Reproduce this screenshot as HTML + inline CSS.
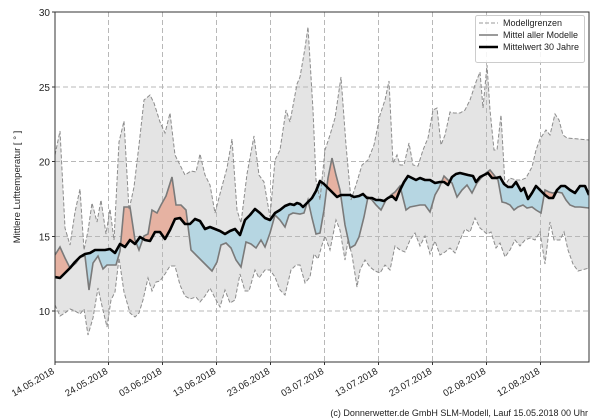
<!DOCTYPE html>
<html><head><meta charset="utf-8"><style>
html,body{margin:0;padding:0;background:#fff;}
svg{display:block;font-family:"Liberation Sans","DejaVu Sans",sans-serif;}
</style></head><body>
<svg width="600" height="420" viewBox="0 0 600 420" xmlns="http://www.w3.org/2000/svg">
<defs>
<clipPath id="plot"><rect x="55" y="12" width="534" height="350"/></clipPath>
<clipPath id="above"><polygon points="55,12 55,277 60,278 65,273 70,268 75,262 80,257 85,254 90,253 95,250 100,250 105,250 110,249 115,253 120,244 125,247 130,240 135,244 140,237 145,240 150,241 155,232 160,232 165,239 170,230 175,219 180,218 185,224 190,224 195,219 200,221 205,229 210,227 215,229 220,231 225,234 230,231 235,229 240,235 245,220 250,215 255,209 260,213 265,218 270,220 275,213 280,210 285,206 290,204 294,205 297,203 300,204 303,207 307,203 312,198 316,191 320,181 324,184 328,188 333,193 337,197 341,195 346,195 350,195 354,197 359,196 363,194 367,198 372,198 376,200 380,200 384,201 388,198 392,196 396,200 400,190 404,182 408,176 412,178 416,180 420,178 425,180 430,180 435,183 440,182 444,182 448,185 452,177 456,174 460,173 464,174 468,175 473,176 476,182 480,177 484,175 488,173 492,178 496,178 500,177 504,184 508,187 512,187 516,182 521,191 524,188 528,199 532,193 536,186 540,190 545,195 549,198 553,198 557,190 561,186 565,186 570,190 575,193 580,186 585,186 589,195 589,12"/></clipPath>
<clipPath id="below"><polygon points="55,362 55,277 60,278 65,273 70,268 75,262 80,257 85,254 90,253 95,250 100,250 105,250 110,249 115,253 120,244 125,247 130,240 135,244 140,237 145,240 150,241 155,232 160,232 165,239 170,230 175,219 180,218 185,224 190,224 195,219 200,221 205,229 210,227 215,229 220,231 225,234 230,231 235,229 240,235 245,220 250,215 255,209 260,213 265,218 270,220 275,213 280,210 285,206 290,204 294,205 297,203 300,204 303,207 307,203 312,198 316,191 320,181 324,184 328,188 333,193 337,197 341,195 346,195 350,195 354,197 359,196 363,194 367,198 372,198 376,200 380,200 384,201 388,198 392,196 396,200 400,190 404,182 408,176 412,178 416,180 420,178 425,180 430,180 435,183 440,182 444,182 448,185 452,177 456,174 460,173 464,174 468,175 473,176 476,182 480,177 484,175 488,173 492,178 496,178 500,177 504,184 508,187 512,187 516,182 521,191 524,188 528,199 532,193 536,186 540,190 545,195 549,198 553,198 557,190 561,186 565,186 570,190 575,193 580,186 585,186 589,195 589,362"/></clipPath>
</defs>
<g clip-path="url(#plot)">
<!-- grey band -->
<polygon fill="#e4e4e4" points="55,155 60,131 65,228 70,245 75,212 80,189 84,250 88,231 92,203 97,222 101,200 106,234 110,209 114,240 119,142 124,121 129,210 134,187 139,145 144,100 150,95 154,103 160,122 165,133 170,113 175,155 180,165 185,175 191,171 196,172 200,154 205,175 210,185 215,213 221,190 227,168 232,139 237,210 241,223 247,174 254,136 259,175 264,182 270,217 275,160 280,150 286,110 290,122 297,84 300,77 305,48 308,27 313,110 316,180 320,200 325,150 330,135 335,118 341,77 346,145 351,200 356,185 362,165 368,160 374,145 380,115 385,100 389,81 393,163 397,155 400,165 404,165 409,143 413,165 418,166 423,150 428,138 433,110 437,108 441,145 445,135 450,112 454,113 460,113 465,110 470,100 476,82 480,72 483,108 487,65 490,110 494,150 497,150 501,115 505,185 510,178 516,180 521,180 526,178 532,167 536,150 540,139 546,130 550,135 555,114 559,120 563,135 567,138 589,140 589,268 582,270 578,271 573,264 568,250 564,232 560,240 554,240 550,222 545,264 540,232 535,240 530,238 525,240 520,246 515,240 510,250 505,257 500,243 496,248 491,232 487,234 480,228 475,218 470,232 465,229 460,240 455,253 450,248 445,252 440,255 435,241 430,254 425,236 420,246 415,233 410,240 405,252 400,250 395,246 390,270 385,265 380,273 375,271 370,267 365,260 360,270 357,287 352,255 348,240 345,260 340,230 336,220 330,250 325,236 322,245 318,259 314,254 310,277 305,283 300,265 296,265 291,270 285,295 280,290 275,277 270,270 265,270 259,278 255,270 249,291 245,291 240,274 235,300 230,303 225,290 220,307 215,298 210,288 205,296 200,302 196,297 190,299 185,296 180,285 175,266 170,266 165,274 160,281 156,282 152,291 148,278 143,300 139,313 135,317 130,313 124,292 119,258 115,292 111,300 107,327 102,306 98,288 93,318 88,335 84,309 80,314 75,311 70,309 65,313 60,316 55,305"/>
<!-- grid -->
<g stroke="#b8b8b8" stroke-width="1" stroke-dasharray="5,3">
<line x1="55" y1="87" x2="589" y2="87"/><line x1="55" y1="161.5" x2="589" y2="161.5"/><line x1="55" y1="236.5" x2="589" y2="236.5"/><line x1="55" y1="311" x2="589" y2="311"/>
<line x1="108.5" y1="12" x2="108.5" y2="362"/><line x1="162.5" y1="12" x2="162.5" y2="362"/><line x1="216.5" y1="12" x2="216.5" y2="362"/><line x1="270.5" y1="12" x2="270.5" y2="362"/><line x1="324.5" y1="12" x2="324.5" y2="362"/><line x1="378.5" y1="12" x2="378.5" y2="362"/><line x1="432.5" y1="12" x2="432.5" y2="362"/><line x1="486.5" y1="12" x2="486.5" y2="362"/><line x1="540.5" y1="12" x2="540.5" y2="362"/>
</g>
<!-- band between mean and 30y -->
<g id="bandg">
<polygon id="band" points="55,255 60,247 65,258 70,268 76,263 80,257 85,256 89,290 93,263 98,256 103,269 107,265 111,265 116,265 120,251 124,207 130,207 135,240 139,250 144,236 148,234 152,210 157,213 161,205 166,196 172,177 176,205 181,205 186,210 191,250 196,255 201,260 206,265 212,271 217,262 221,245 226,243 231,248 236,260 241,267 246,242 251,244 256,248 261,240 265,247 270,233 275,215 280,220 285,227 289,215 293,213 300,214 304,213 308,200 312,218 316,234 320,233 324,210 328,178 332,158 336,175 340,190 345,225 350,248 355,245 359,237 364,217 368,197 372,200 376,205 381,210 386,200 391,195 395,192 400,186 406,210 410,207 415,206 420,205 425,205 430,212 435,195 439,188 444,176 448,180 452,183 457,197 462,190 467,185 472,193 477,183 481,178 486,173 490,170 494,175 498,180 502,202 506,203 510,205 514,210 518,207 523,205 527,208 532,207 536,210 541,213 545,190 549,192 553,193 557,192 562,193 566,200 570,205 575,207 580,207 589,208 589,195 585,186 580,186 575,193 570,190 565,186 561,186 557,190 553,198 549,198 545,195 540,190 536,186 532,193 528,199 524,188 521,191 516,182 512,187 508,187 504,184 500,177 496,178 492,178 488,173 484,175 480,177 476,182 473,176 468,175 464,174 460,173 456,174 452,177 448,185 444,182 440,182 435,183 430,180 425,180 420,178 416,180 412,178 408,176 404,182 400,190 396,200 392,196 388,198 384,201 380,200 376,200 372,198 367,198 363,194 359,196 354,197 350,195 346,195 341,195 337,197 333,193 328,188 324,184 320,181 316,191 312,198 307,203 303,207 300,204 297,203 294,205 290,204 285,206 280,210 275,213 270,220 265,218 260,213 255,209 250,215 245,220 240,235 235,229 230,231 225,234 220,231 215,229 210,227 205,229 200,221 195,219 190,224 185,224 180,218 175,219 170,230 165,239 160,232 155,232 150,241 145,240 140,237 135,244 130,240 125,247 120,244 115,253 110,249 105,250 100,250 95,250 90,253 85,254 80,257 75,262 70,268 65,273 60,278 55,277"/>
</g>
<use href="#band" fill="#e6b2a2" clip-path="url(#above)"/>
<use href="#band" fill="#b6d6e2" clip-path="url(#below)"/>
<!-- dashed bounds -->
<polyline fill="none" stroke="#8c8c8c" stroke-width="1" stroke-dasharray="4,2" points="55,155 60,131 65,228 70,245 75,212 80,189 84,250 88,231 92,203 97,222 101,200 106,234 110,209 114,240 119,142 124,121 129,210 134,187 139,145 144,100 150,95 154,103 160,122 165,133 170,113 175,155 180,165 185,175 191,171 196,172 200,154 205,175 210,185 215,213 221,190 227,168 232,139 237,210 241,223 247,174 254,136 259,175 264,182 270,217 275,160 280,150 286,110 290,122 297,84 300,77 305,48 308,27 313,110 316,180 320,200 325,150 330,135 335,118 341,77 346,145 351,200 356,185 362,165 368,160 374,145 380,115 385,100 389,81 393,163 397,155 400,165 404,165 409,143 413,165 418,166 423,150 428,138 433,110 437,108 441,145 445,135 450,112 454,113 460,113 465,110 470,100 476,82 480,72 483,108 487,65 490,110 494,150 497,150 501,115 505,185 510,178 516,180 521,180 526,178 532,167 536,150 540,139 546,130 550,135 555,114 559,120 563,135 567,138 589,140"/>
<polyline fill="none" stroke="#8c8c8c" stroke-width="1" stroke-dasharray="4,2" points="55,305 60,316 65,313 70,309 75,311 80,314 84,309 88,335 93,318 98,288 102,306 107,327 111,300 115,292 119,258 124,292 130,313 135,317 139,313 143,300 148,278 152,291 156,282 160,281 165,274 170,266 175,266 180,285 185,296 190,299 196,297 200,302 205,296 210,288 215,298 220,307 225,290 230,303 235,300 240,274 245,291 249,291 255,270 259,278 265,270 270,270 275,277 280,290 285,295 291,270 296,265 300,265 305,283 310,277 314,254 318,259 322,245 325,236 330,250 336,220 340,230 345,260 348,240 352,255 357,287 360,270 365,260 370,267 375,271 380,273 385,265 390,270 395,246 400,250 405,252 410,240 415,233 420,246 425,236 430,254 435,241 440,255 445,252 450,248 455,253 460,240 465,229 470,232 475,218 480,228 487,234 491,232 496,248 500,243 505,257 510,250 515,240 520,246 525,240 530,238 535,240 540,232 545,264 550,222 554,240 560,240 564,232 568,250 573,264 578,271 582,270 589,268"/>
<!-- mean of models -->
<polyline fill="none" stroke="#7a7a7a" stroke-width="1.6" points="55,255 60,247 65,258 70,268 76,263 80,257 85,256 89,290 93,263 98,256 103,269 107,265 111,265 116,265 120,251 124,207 130,207 135,240 139,250 144,236 148,234 152,210 157,213 161,205 166,196 172,177 176,205 181,205 186,210 191,250 196,255 201,260 206,265 212,271 217,262 221,245 226,243 231,248 236,260 241,267 246,242 251,244 256,248 261,240 265,247 270,233 275,215 280,220 285,227 289,215 293,213 300,214 304,213 308,200 312,218 316,234 320,233 324,210 328,178 332,158 336,175 340,190 345,225 350,248 355,245 359,237 364,217 368,197 372,200 376,205 381,210 386,200 391,195 395,192 400,186 406,210 410,207 415,206 420,205 425,205 430,212 435,195 439,188 444,176 448,180 452,183 457,197 462,190 467,185 472,193 477,183 481,178 486,173 490,170 494,175 498,180 502,202 506,203 510,205 514,210 518,207 523,205 527,208 532,207 536,210 541,213 545,190 549,192 553,193 557,192 562,193 566,200 570,205 575,207 580,207 589,208"/>
<!-- 30y mean -->
<polyline fill="none" stroke="#000" stroke-width="2.6" stroke-linejoin="round" points="55,277 60,278 65,273 70,268 75,262 80,257 85,254 90,253 95,250 100,250 105,250 110,249 115,253 120,244 125,247 130,240 135,244 140,237 145,240 150,241 155,232 160,232 165,239 170,230 175,219 180,218 185,224 190,224 195,219 200,221 205,229 210,227 215,229 220,231 225,234 230,231 235,229 240,235 245,220 250,215 255,209 260,213 265,218 270,220 275,213 280,210 285,206 290,204 294,205 297,203 300,204 303,207 307,203 312,198 316,191 320,181 324,184 328,188 333,193 337,197 341,195 346,195 350,195 354,197 359,196 363,194 367,198 372,198 376,200 380,200 384,201 388,198 392,196 396,200 400,190 404,182 408,176 412,178 416,180 420,178 425,180 430,180 435,183 440,182 444,182 448,185 452,177 456,174 460,173 464,174 468,175 473,176 476,182 480,177 484,175 488,173 492,178 496,178 500,177 504,184 508,187 512,187 516,182 521,191 524,188 528,199 532,193 536,186 540,190 545,195 549,198 553,198 557,190 561,186 565,186 570,190 575,193 580,186 585,186 589,195"/>
</g>
<!-- axes frame -->
<rect x="55" y="12" width="534" height="350" fill="none" stroke="#333" stroke-width="1"/>
<!-- y ticks -->
<g stroke="#333"><line x1="52" y1="12" x2="55" y2="12"/><line x1="52" y1="87" x2="55" y2="87"/><line x1="52" y1="161.5" x2="55" y2="161.5"/><line x1="52" y1="236.5" x2="55" y2="236.5"/><line x1="52" y1="311" x2="55" y2="311"/>
<line x1="55" y1="362" x2="55" y2="365"/><line x1="108.5" y1="362" x2="108.5" y2="365"/><line x1="162.5" y1="362" x2="162.5" y2="365"/><line x1="216.5" y1="362" x2="216.5" y2="365"/><line x1="270.5" y1="362" x2="270.5" y2="365"/><line x1="324.5" y1="362" x2="324.5" y2="365"/><line x1="378.5" y1="362" x2="378.5" y2="365"/><line x1="432.5" y1="362" x2="432.5" y2="365"/><line x1="486.5" y1="362" x2="486.5" y2="365"/><line x1="540.5" y1="362" x2="540.5" y2="365"/></g>
<g font-size="10" fill="#222" text-anchor="end">
<text x="50" y="16">30</text><text x="50" y="91">25</text><text x="50" y="165.5">20</text><text x="50" y="240.5">15</text><text x="50" y="315">10</text>
</g>
<text transform="translate(20,187) rotate(-90)" font-size="9.5" fill="#222" text-anchor="middle">Mittlere Lufttemperatur [ ° ]</text>
<g font-size="9.5" fill="#222" text-anchor="end">
<text transform="translate(55,373) rotate(-30)">14.05.2018</text>
<text transform="translate(108.5,373) rotate(-30)">24.05.2018</text>
<text transform="translate(162.5,373) rotate(-30)">03.06.2018</text>
<text transform="translate(216.5,373) rotate(-30)">13.06.2018</text>
<text transform="translate(270.5,373) rotate(-30)">23.06.2018</text>
<text transform="translate(324.5,373) rotate(-30)">03.07.2018</text>
<text transform="translate(378.5,373) rotate(-30)">13.07.2018</text>
<text transform="translate(432.5,373) rotate(-30)">23.07.2018</text>
<text transform="translate(486.5,373) rotate(-30)">02.08.2018</text>
<text transform="translate(540.5,373) rotate(-30)">12.08.2018</text>
</g>
<!-- legend -->
<rect x="475.5" y="15.5" width="109" height="47" rx="2" fill="#fff" fill-opacity="0.85" stroke="#ccc"/>
<line x1="479" y1="23" x2="498" y2="23" stroke="#999" stroke-dasharray="4,2"/>
<line x1="479" y1="35" x2="498" y2="35" stroke="#7a7a7a" stroke-width="1.6"/>
<line x1="479" y1="47" x2="498" y2="47" stroke="#000" stroke-width="2.6"/>
<g font-size="9" fill="#222"><text x="503" y="26">Modellgrenzen</text><text x="503" y="38">Mittel aller Modelle</text><text x="503" y="50">Mittelwert 30 Jahre</text></g>
<text x="588" y="416" font-size="9" fill="#222" text-anchor="end">(c) Donnerwetter.de GmbH SLM-Modell, Lauf 15.05.2018 00 Uhr</text>
</svg>
</body></html>
